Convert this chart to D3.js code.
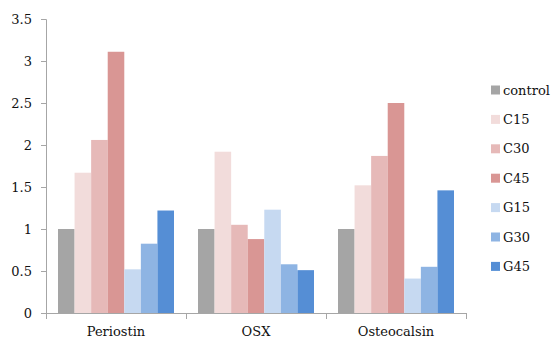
<!DOCTYPE html>
<html><head><meta charset="utf-8">
<script src="https://cdn.jsdelivr.net/npm/d3@7"></script>
<style>body{margin:0;background:#fff}svg{display:block}text{font-family:"DejaVu Serif",serif;fill:#111}</style>
</head><body><svg id="c" width="554" height="340"></svg>
<script>
const categories = ["Periostin", "OSX", "Osteocalsin"];
const seriesNames = ["control", "C15", "C30", "C45", "G15", "G30", "G45"];
const control = [1.00, 1.00, 1.00];
const C15 = [1.67, 1.92, 1.52];
const C30 = [2.06, 1.05, 1.87];
const C45 = [3.11, 0.88, 2.50];
const G15 = [0.52, 1.23, 0.41];
const G30 = [0.825, 0.58, 0.55];
const G45 = [1.22, 0.51, 1.46];
const yTicks = [0, 0.5, 1, 1.5, 2, 2.5, 3, 3.5];
const colors = ["#a5a5a5", "#f2dcdb", "#e6b9b8", "#d99694", "#c6d9f1", "#8eb4e3", "#558ed5"];

const series = [control, C15, C30, C45, G15, G30, G45];
const svg = d3.select("#c");
const mLeft = 46, mRight = 466, mTop = 19, mBottom = 313;

const x0 = d3.scaleBand().domain(categories).range([mLeft, mRight]).paddingInner(24/140).paddingOuter(12/140);
const x1 = d3.scaleBand().domain(seriesNames).range([0, x0.bandwidth()]);
const y = d3.scaleLinear().domain([0, 3.5]).range([mBottom, mTop]);

// bars
categories.forEach((cat, ci) => {
  const g = svg.append("g").attr("transform", `translate(${x0(cat)},0)`);
  seriesNames.forEach((s, si) => {
    const v = series[si][ci];
    g.append("rect")
      .attr("x", x1(s))
      .attr("y", y(v))
      .attr("width", x1.bandwidth())
      .attr("height", y(0) - y(v))
      .attr("fill", colors[si]);
  });
});

// y axis
const yAxis = d3.axisLeft(y).tickValues(yTicks).tickSize(5).tickPadding(9).tickFormat(d => String(d));
const yg = svg.append("g").attr("transform", `translate(${mLeft},0)`).call(yAxis);
yg.select(".domain").attr("stroke", "#a6a6a6").attr("d", `M-5,${mTop}.5H0.5V${mBottom}.5`);
yg.selectAll(".tick line").attr("stroke", "#a6a6a6");
yg.selectAll(".tick text").attr("font-size", 13).attr("font-family", "DejaVu Serif").attr("fill", "#111");

// x axis
const xg = svg.append("g").attr("transform", `translate(0,${mBottom})`);
xg.append("line").attr("x1", mLeft).attr("x2", mRight).attr("y1", 0.5).attr("y2", 0.5).attr("stroke", "#a6a6a6");
const bounds = [mLeft].concat(categories.map(c => x0(c) - x0.paddingOuter()*x0.step() + x0.step()));
bounds.forEach(b => {
  xg.append("line").attr("x1", Math.round(b)+0.5).attr("x2", Math.round(b)+0.5).attr("y1", 0).attr("y2", 6).attr("stroke", "#a6a6a6");
});
categories.forEach(c => {
  xg.append("text").attr("x", x0(c) + x0.bandwidth()/2).attr("y", 23)
    .attr("text-anchor", "middle").attr("font-size", 13).text(c);
});

// legend
const lg = svg.append("g");
seriesNames.forEach((s, i) => {
  const cy = 90 + i * 29.4;
  lg.append("rect").attr("x", 491).attr("y", cy - 4.5).attr("width", 9).attr("height", 9).attr("fill", colors[i]);
  lg.append("text").attr("x", 503).attr("y", cy + 4.5).attr("font-size", 13).text(s);
});
</script></body></html>
